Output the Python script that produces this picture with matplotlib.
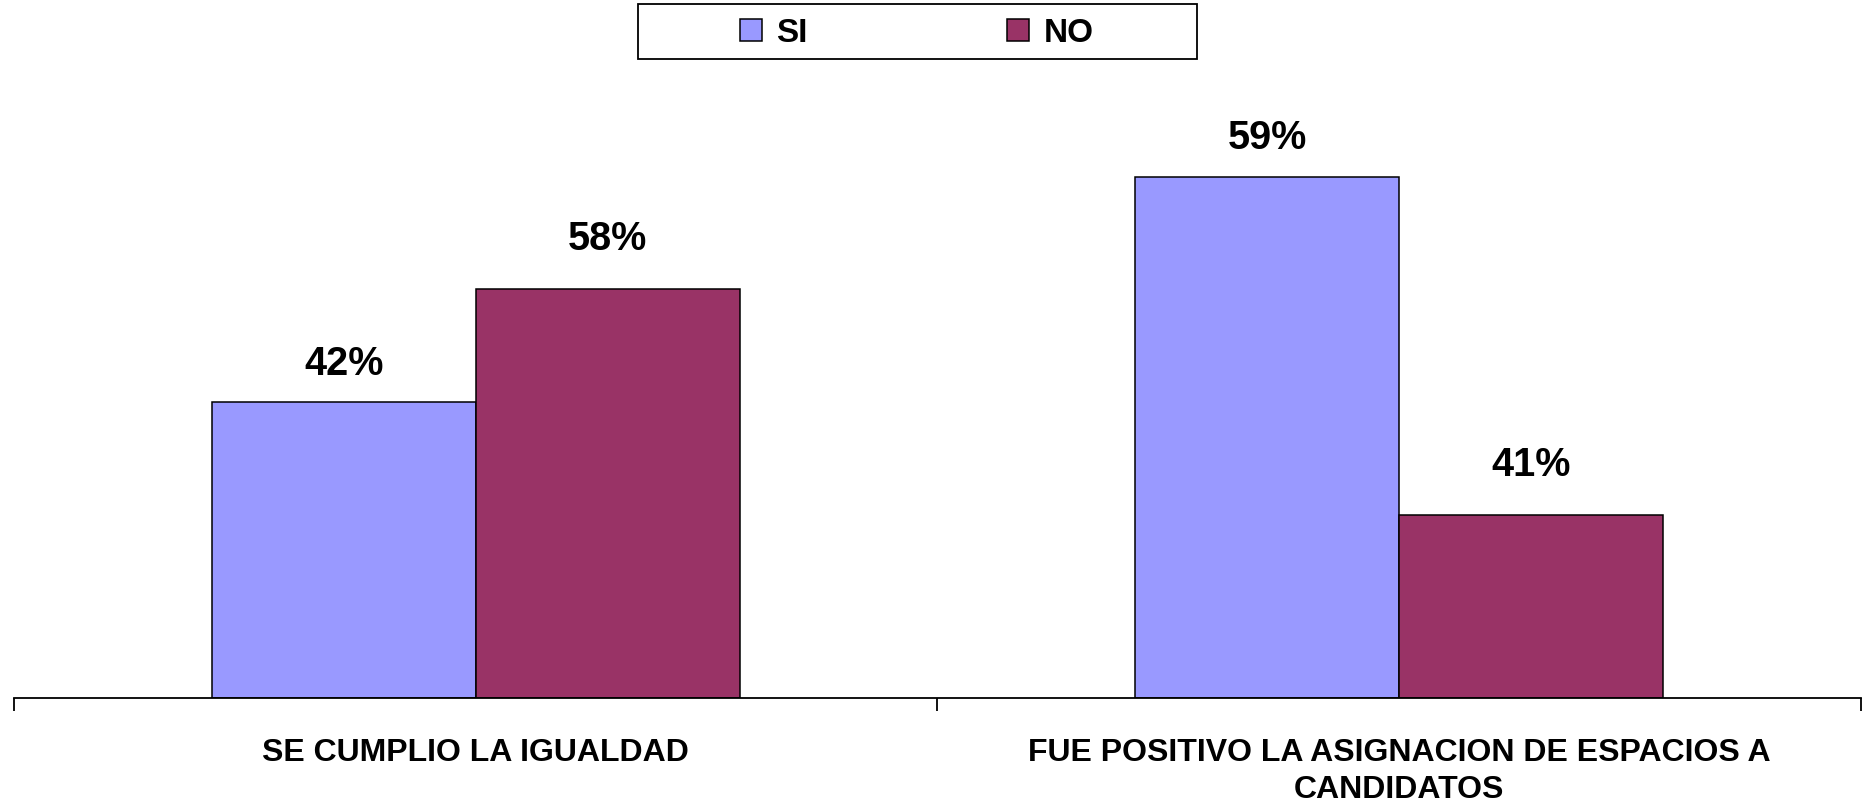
import matplotlib.pyplot as plt
import matplotlib.patches as mpatches
import numpy as np

# Categories and series (bar heights, labels as printed)
categories = ['SE CUMPLIO LA IGUALDAD',
              'FUE POSITIVO LA ASIGNACION DE ESPACIOS A\nCANDIDATOS']
si_values = [42, 74]
no_values = [58, 26]
si_labels = ['42%', '59%']
no_labels = ['58%', '41%']

si_color = '#9999FF'
no_color = '#993366'

plt.rcParams['font.family'] = ['Liberation Sans', 'DejaVu Sans']
plt.rcParams['font.weight'] = 'bold'

fig = plt.figure(figsize=(18.64, 8.03), dpi=100)
ax = fig.add_axes([0.0075, 0.1295, 0.9909, 0.7789])

x = np.arange(len(categories))
w = 0.286
bars_si = ax.bar(x - w / 2, si_values, w, color=si_color, edgecolor='black', linewidth=1.1, label='SI')
bars_no = ax.bar(x + w / 2, no_values, w, color=no_color, edgecolor='black', linewidth=1.1, label='NO')

# Value labels above each bar (the NO labels sit a little higher in the original)
for bars, labels, off in [(bars_si, si_labels, 20.5), (bars_no, no_labels, 29)]:
    for b, lab in zip(bars, labels):
        ax.annotate(lab, (b.get_x() + b.get_width() / 2, b.get_height()),
                    xytext=(0, off), textcoords='offset points',
                    ha='center', va='baseline', fontsize=28.5, fontweight='bold')

ax.set_xlim(-0.5, 1.5)
ax.set_ylim(0, 88.8)

# Axes styling
for s in ['top', 'right', 'left']:
    ax.spines[s].set_visible(False)
ax.spines['bottom'].set_linewidth(1.3)
ax.set_yticks([])
ax.set_xticks(x)
ax.set_xticklabels(categories, fontsize=23, fontweight='bold', linespacing=1.32)
ax.tick_params(axis='x', which='major', length=0, pad=28)
ax.set_xticks([-0.5, 0.5, 1.5], minor=True)
ax.tick_params(axis='x', which='minor', length=9, width=1.3, direction='out')

# Legend with a box around it
fig.patches.append(mpatches.Rectangle((0.3425, 0.9259), 0.2996, 0.0679,
                                      transform=fig.transFigure, fill=False,
                                      edgecolor='black', linewidth=1.3))
fig.legend(handles=[bars_si, bars_no], labels=['SI', 'NO'], ncol=2,
           loc='center left', bbox_to_anchor=(740 / 1864, 0.9577),
           frameon=False, borderpad=0, borderaxespad=0,
           handlelength=0.66, handleheight=0.66, handletextpad=0.42,
           columnspacing=6.0, prop={'weight': 'bold', 'size': 24})

fig.savefig('out.png', dpi=100)
